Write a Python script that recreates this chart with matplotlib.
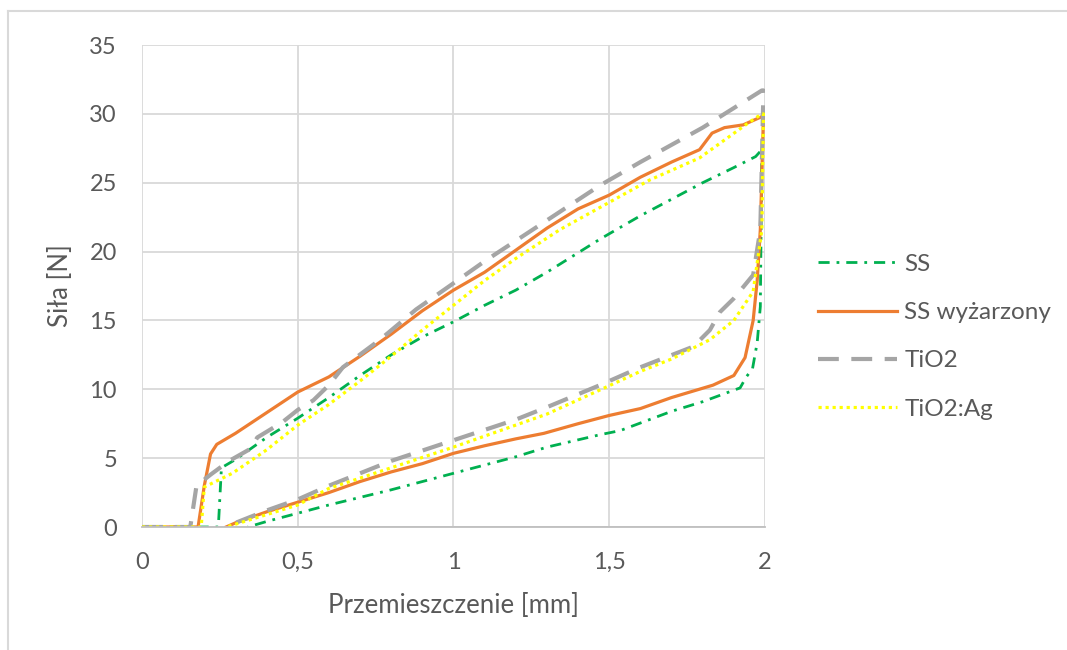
import matplotlib
matplotlib.use("Agg")
from matplotlib import pyplot as plt
from matplotlib.lines import Line2D

# data: displacement [mm] and force [N], loading then unloading
ss_x = [0, 0.245, 0.255, 0.3, 0.4, 0.5, 0.6, 0.7, 0.8, 0.9, 1.0, 1.1, 1.2, 1.3, 1.47, 1.6, 1.7, 1.8, 1.9, 1.97, 1.99,
        1.985, 1.975, 1.96, 1.94, 1.92, 1.8, 1.7, 1.535, 1.47, 1.3, 1.2, 1.0, 0.8, 0.6, 0.5, 0.4, 0.34]
ss_y = [0, 0, 4.3, 4.9, 6.5, 7.9, 9.4, 11.0, 12.5, 13.8, 14.9, 16.1, 17.2, 18.5, 20.9, 22.6, 23.8, 25.0, 26.1, 26.9, 27.4,
        16.0, 13.4, 11.5, 10.9, 10.1, 9.1, 8.4, 7.0, 6.7, 5.8, 5.1, 3.9, 2.7, 1.6, 1.0, 0.4, 0]

ssw_x = [0, 0.18, 0.2, 0.22, 0.24, 0.3, 0.4, 0.5, 0.6, 0.7, 0.8, 0.9, 1.0, 1.1, 1.2, 1.3, 1.4, 1.5, 1.6, 1.7, 1.79,
         1.83, 1.87, 1.93, 1.99, 1.995, 1.985, 1.975, 1.962, 1.936, 1.9, 1.833, 1.7, 1.6, 1.5, 1.4, 1.29, 1.2, 1.1,
         1.0, 0.9, 0.8, 0.7, 0.6, 0.5, 0.4, 0.3, 0.27]
ssw_y = [0, 0, 3.0, 5.3, 6.0, 6.8, 8.3, 9.8, 10.9, 12.4, 14.0, 15.7, 17.2, 18.5, 20.1, 21.7, 23.1, 24.1, 25.4, 26.5, 27.4,
         28.6, 29.0, 29.2, 29.8, 29.8, 21.6, 17.9, 15.0, 12.3, 11.0, 10.3, 9.4, 8.6, 8.1, 7.5, 6.8, 6.4, 5.9,
         5.35, 4.6, 4.0, 3.3, 2.5, 1.8, 1.1, 0.3, 0]

tio2_x = [0, 0.155, 0.175, 0.22, 0.28, 0.35, 0.37, 0.45, 0.5, 0.55, 0.6, 0.645, 0.764, 0.88, 1.0, 1.1, 1.255, 1.47,
          1.6, 1.8, 1.99, 1.995, 1.985, 1.962, 1.9, 1.855, 1.823, 1.77, 1.6, 1.47, 1.3, 1.2, 1.0, 0.8, 0.6, 0.5,
          0.4, 0.3, 0.28]
tio2_y = [0, 0, 3.0, 3.8, 4.8, 5.7, 6.5, 7.6, 8.5, 9.2, 10.3, 11.6, 13.6, 15.8, 17.7, 19.3, 21.6, 24.8,
          26.5, 29.0, 31.7, 31.7, 21.6, 18.3, 16.6, 15.6, 14.3, 13.1, 11.6, 10.3, 8.7, 7.8, 6.3, 4.8, 3.0, 2.0,
          1.2, 0.3, 0]

tio2ag_x = [0, 0.19, 0.2, 0.29, 0.4, 0.5, 0.6, 0.7, 0.8, 0.9, 1.0, 1.1, 1.2, 1.342, 1.47, 1.63, 1.79, 1.95, 1.99,
            1.995, 1.99, 1.962, 1.9, 1.823, 1.7, 1.6, 1.47, 1.3, 1.2, 1.0, 0.8, 0.6, 0.5, 0.4, 0.3, 0.27]
tio2ag_y = [0, 0, 2.9, 3.9, 5.6, 7.4, 8.9, 10.6, 12.4, 14.3, 16.1, 17.9, 19.5, 21.6, 23.2, 25.2, 26.8, 29.4, 30.0,
            30.0, 21.6, 17.1, 15.0, 13.6, 12.2, 11.3, 9.95, 8.2, 7.4, 5.8, 4.3, 2.8, 1.6, 0.9, 0.2, 0]

x_ticks = [0, 0.5, 1, 1.5, 2]
x_ticklabels = ["0", "0,5", "1", "1,5", "2"]
y_ticks = [0, 5, 10, 15, 20, 25, 30, 35]

txt = "#595959"
plt.rcParams['font.family'] = ['Lato', 'DejaVu Sans']

fig = plt.figure(figsize=(10.67, 6.5), dpi=100)
ax = fig.add_axes([142/1067, 1-527/650, (765-142)/1067, (527-45)/650])

ax.plot(ss_x, ss_y, color="#00B050", lw=2.0, dashes=(4, 2.5, 1, 2.5), label="SS")
ax.plot(ssw_x, ssw_y, color="#ED7D31", lw=2.3, label="SS wyżarzony")
ax.plot(tio2_x, tio2_y, color="#A5A5A5", lw=3.0, dashes=(5, 3), label="TiO2")
ax.plot(tio2ag_x, tio2ag_y, color="#FFFF00", lw=2.3, linestyle=(0, (1, 1.2)), label="TiO2:Ag")

ax.set_xlim(0, 2)
ax.set_ylim(0, 35)
ax.set_xticks(x_ticks)
ax.set_xticklabels(x_ticklabels)
ax.set_yticks(y_ticks)
ax.grid(True, color="#D9D9D9", lw=1.3)
ax.set_axisbelow(True)
for s in ax.spines.values():
    s.set_visible(False)
ax.spines['bottom'].set_visible(True)
ax.spines['bottom'].set_color("#BFBFBF")
ax.spines['bottom'].set_linewidth(1.3)
ax.tick_params(length=0, labelsize=17, labelcolor=txt)
ax.tick_params(axis='x', pad=18)
ax.tick_params(axis='y', pad=18)

ax.set_xlabel("Przemieszczenie [mm]", fontsize=18.5, color=txt)
ax.set_ylabel("Siła [N]", fontsize=18.5, color=txt)
ax.xaxis.set_label_coords(0.5, (527-593)/482)
ax.yaxis.set_label_coords((73-142)/623, 0.5)

leg = ax.legend(loc="upper left", bbox_to_anchor=(796/1067, 1-232/650), bbox_transform=fig.transFigure,
                frameon=False, fontsize=17.5, handlelength=3.25, handletextpad=0.3, labelspacing=1.12)
for t in leg.get_texts():
    t.set_color(txt)

# outer chart frame
fig.add_artist(Line2D([8/1067, 1], [1-11/650, 1-11/650], color="#D9D9D9", lw=1.5))
fig.add_artist(Line2D([8/1067, 8/1067], [0, 1-11/650], color="#D9D9D9", lw=1.5))

fig.savefig("out.png", dpi=100)
